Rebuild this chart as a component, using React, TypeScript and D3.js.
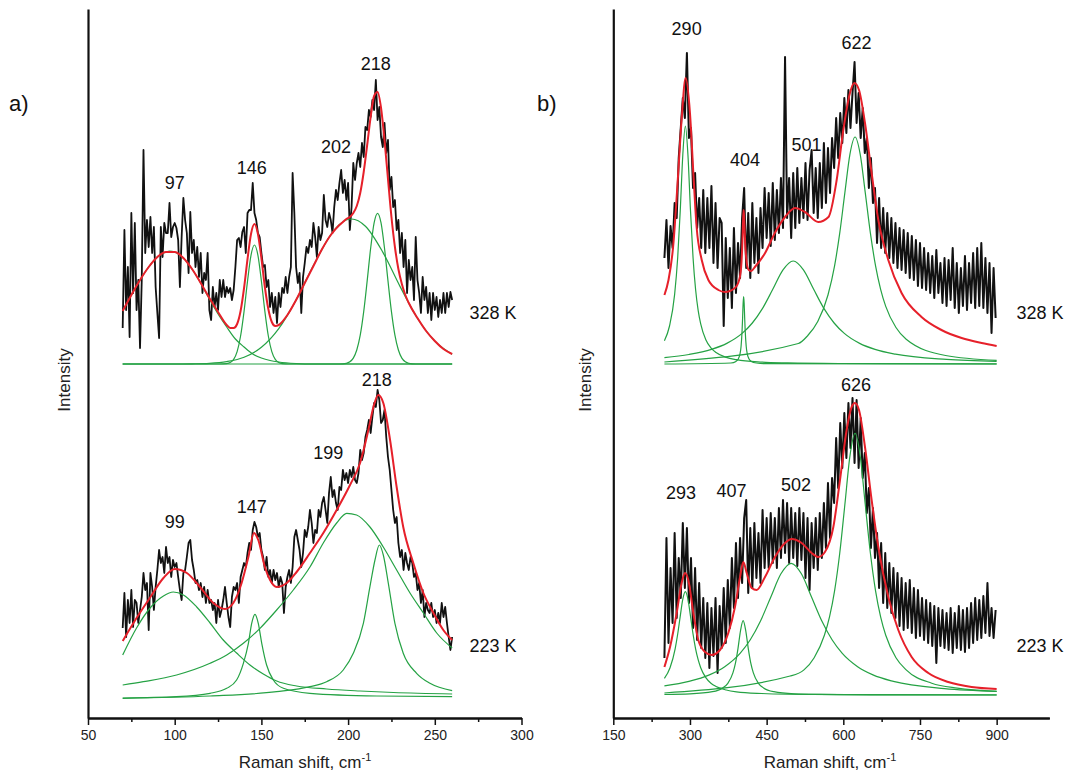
import React, { useEffect, useRef } from "react";
import * as d3 from "d3";

const FONT = "Arial, 'Liberation Sans', sans-serif";
const BLACK = "#111";
const RED = "#e6202a";
const GREEN = "#25a244";

// ---------- panel a) low-frequency range, 70-260 cm-1, 1 cm-1 step ----------
const aShiftRange = [70, 260];

const aTopCounts = [
  390, 488, 408, 451, 381, 505, 425, 495, 408, 438,
  370, 438, 568, 465, 498, 471, 501, 465, 491, 431,
  405, 380, 491, 461, 495, 485, 485, 515, 481, 491,
  495, 490, 478, 431, 481, 520, 498, 485, 445, 506,
  465, 478, 451, 471, 441, 465, 425, 445, 438, 465,
  408, 398, 431, 411, 425, 408, 438, 421, 438, 421,
  431, 425, 430, 418, 428, 451, 478, 480, 471, 486,
  491, 465, 505, 508, 508, 535, 505, 498, 485, 481,
  465, 451, 453, 431, 438, 411, 425, 405, 421, 395,
  425, 411, 430, 425, 441, 425, 441, 451, 545, 505,
  451, 435, 445, 405, 441, 455, 471, 465, 478, 471,
  495, 481, 461, 491, 478, 485, 523, 498, 491, 505,
  498, 485, 511, 528, 518, 535, 548, 525, 538, 518,
  535, 488, 511, 555, 538, 555, 565, 551, 575, 561,
  591, 588, 608, 601, 618, 608, 638, 598, 611, 581,
  571, 595, 565, 578, 528, 541, 511, 518, 488, 498,
  465, 485, 451, 478, 425, 458, 438, 451, 418, 481,
  438, 425, 405, 441, 418, 431, 405, 425, 398, 425,
  408, 421, 401, 418, 405, 425, 405, 425, 411, 426,
  418,
];

const aBotCounts = [
  90, 125, 81, 118, 95, 128, 91, 118, 115, 95,
  108, 121, 145, 128, 135, 88, 145, 131, 108, 131,
  148, 168, 155, 161, 145, 171, 155, 161, 141, 158,
  151, 155, 141, 128, 118, 145, 148, 161, 175, 178,
  158, 148, 135, 138, 128, 135, 121, 131, 115, 128,
  115, 118, 108, 115, 95, 118, 101, 108, 118, 131,
  115, 101, 91, 121, 131, 128, 135, 115, 141, 148,
  155, 151, 165, 175, 168, 188, 196, 191, 181, 185,
  168, 161, 148, 161, 141, 148, 135, 148, 138, 145,
  131, 141, 135, 105, 131, 141, 148, 135, 151, 181,
  188, 178, 168, 151, 165, 188, 181, 191, 208, 195,
  175, 188, 185, 208, 201, 215, 221, 208, 195, 225,
  241, 221, 228, 215, 208, 231, 228, 248, 238, 245,
  235, 248, 241, 251, 238, 235, 245, 268, 258, 265,
  281, 288, 298, 285, 301, 315, 311, 328, 318, 295,
  298, 308, 281, 261, 248, 228, 208, 195, 201, 175,
  161, 168, 148, 165, 155, 148, 161, 155, 141, 145,
  128, 135, 115, 128, 101, 115, 108, 105, 115, 101,
  108, 95, 105, 95, 115, 101, 111, 95, 81, 68,
  81,
];

// fitted sum (red) and components (green), [shift, intensity]
const aTopFit = [
  [70, 407], [75, 423], [80, 438], [85, 451], [90, 461], [95, 466], [100, 466],
  [105, 460], [110, 449], [115, 435], [120, 420], [125, 406], [130, 393],
  [132, 390], [134, 390], [136, 394], [138, 407], [140, 430], [142, 459],
  [144, 484], [146, 494], [148, 484], [150, 460], [152, 431], [154, 409],
  [156, 396], [158, 392], [160, 393], [165, 403], [170, 418], [175, 435],
  [180, 452], [185, 469], [190, 483], [195, 493], [197, 496], [199, 499],
  [201, 501], [203, 505], [205, 512], [207, 525], [209, 546], [211, 573],
  [213, 601], [215, 622], [217, 626], [219, 610], [221, 578], [223, 539],
  [225, 501], [227, 471], [229, 449], [231, 434], [233, 423], [235, 415],
  [240, 400], [245, 387], [250, 377], [255, 369], [260, 364],
];
const aTop97 = [
  [70, 407], [75, 423], [80, 438], [85, 451], [90, 461], [95, 466], [97, 467],
  [100, 466], [105, 460], [110, 449], [115, 435], [120, 419], [125, 404],
  [130, 391], [135, 379], [140, 371], [145, 364], [150, 360], [155, 357.5],
  [160, 356], [170, 354.5], [180, 354], [260, 354],
];
const aTop146 = [
  [70, 354], [126, 354], [130, 354.4], [132, 355.4], [134, 358.6], [136, 366.4],
  [138, 382], [140, 406.7], [142, 436.9], [144, 462.7], [146, 473], [148, 462.7],
  [150, 436.9], [152, 406.7], [154, 382], [156, 366.4], [158, 358.6],
  [160, 355.4], [162, 354.4], [166, 354], [260, 354],
];
const aTop202 = [
  [70, 354], [100, 354], [110, 354.2], [120, 354.7], [130, 356.4], [140, 360.7],
  [150, 370.7], [160, 389.4], [170, 417.9], [180, 452.5], [190, 483.2],
  [195, 493.5], [202, 499], [210, 491.8], [220, 465.9], [230, 431.4],
  [240, 399.7], [250, 376.9], [260, 363.8],
];
const aTop218 = [
  [70, 354], [195, 354], [199, 354.7], [201, 356.2], [203, 359.9], [205, 368],
  [207, 382.8], [209, 406.3], [211, 437.1], [213, 469.7], [215, 495.1],
  [217, 504.7], [219, 495.1], [221, 469.7], [223, 437.1], [225, 406.3],
  [227, 382.8], [229, 368], [231, 359.9], [233, 356.2], [235, 354.7],
  [239, 354], [260, 354],
];

const aBotFit = [
  [70, 77], [78, 100], [86, 121], [93.5, 140], [100, 149], [107, 145],
  [114.6, 131], [122.3, 115], [129, 109], [133.8, 115], [138.6, 135],
  [142.5, 161], [145.7, 185], [148.2, 178], [152, 151], [155, 138],
  [158.8, 131], [164.6, 135], [170.3, 146], [178, 165], [185.7, 185],
  [193.4, 208], [201.1, 233], [206.9, 255], [211.7, 288], [214.6, 311],
  [217.4, 323], [220.3, 315], [224.2, 278], [228, 231], [231.8, 191],
  [237.6, 155], [243.4, 125], [249.2, 105], [254.9, 88], [260, 78],
];
const aBot99 = [
  [70, 63], [78, 90], [85.8, 110], [93.5, 122], [99.2, 126], [105, 123],
  [112.7, 111], [120.4, 95], [128, 78], [135.7, 65], [143.4, 53], [151.1, 44],
  [158.8, 37], [170.3, 32], [187.6, 29], [206.9, 27], [226.1, 25.5], [260, 24],
];
const aBot147 = [
  [70, 20], [101, 21.3], [120.4, 24.7], [130, 29.7], [135.7, 38], [139.6, 54.7],
  [142.5, 74.7], [144.4, 94.7], [146.3, 103.7], [148.2, 94.7], [150.2, 74.7],
  [153, 53], [156.9, 38], [162.7, 29.7], [178, 24.7], [216.5, 22], [260, 21.3],
];
const aBot199 = [
  [70, 33], [81.9, 36.3], [101.1, 43], [120.4, 54.7], [130, 63], [139.6, 74.7],
  [149.2, 89.7], [158.8, 108], [168.4, 128], [178, 151], [185.7, 175],
  [193.4, 195], [199.2, 204.7], [204.9, 203], [212.6, 191], [220.3, 171],
  [228, 148], [235.7, 125], [243.4, 105], [251.1, 85], [260, 70],
];
const aBot218 = [
  [70, 19.7], [120.4, 22], [158.8, 26.3], [178, 31.3], [187.6, 36.3],
  [197.2, 48], [203, 64.7], [208.8, 94.7], [212.6, 131.3], [215.5, 158],
  [218, 173], [220.3, 163], [223.2, 134.7], [227, 94.7], [231.8, 64.7],
  [239.5, 44.7], [247.2, 34.7], [260, 27.3],
];

// ---------- panel b) 250-900 cm-1, 4 cm-1 step ----------
const bShiftRange = [250, 898];

const bTopCounts = [
  460, 498, 450, 492, 470, 515, 500, 560, 590, 620,
  600, 665, 580, 590, 530, 545, 490, 520, 470, 528,
  465, 520, 470, 532, 455, 515, 450, 500, 495, 392,
  480, 420, 470, 410, 490, 425, 475, 440, 500, 530,
  450, 505, 440, 515, 455, 500, 445, 510, 470, 530,
  480, 525, 472, 535, 478, 528, 485, 540, 490, 661,
  500, 540, 480, 545, 490, 550, 495, 540, 500, 555,
  498, 548, 568, 505, 550, 500, 555, 510, 575, 515,
  570, 525, 580, 550, 600, 560, 605, 575, 620, 585,
  628, 590, 625, 656, 595, 625, 580, 610, 565, 580,
  530, 560, 515, 530, 475, 520, 470, 510, 465, 505,
  460, 500, 455, 495, 450, 490, 448, 488, 445, 485,
  440, 482, 438, 478, 432, 475, 430, 470, 428, 465,
  425, 462, 420, 468, 425, 455, 415, 460, 412, 458,
  418, 470, 410, 455, 405, 450, 412, 462, 408, 455,
  415, 465, 410, 470, 412, 475, 410, 460, 405, 455,
  385, 450, 400,
];

const bBotCounts = [
  60, 180, 75, 150, 95, 185, 100, 160, 120, 195,
  130, 190, 115, 160, 90, 150, 78, 135, 70, 120,
  60, 115, 50, 110, 62, 120, 45, 112, 70, 130,
  75, 138, 90, 160, 110, 175, 120, 180, 135, 200,
  218, 125, 190, 130, 195, 140, 185, 135, 208, 150,
  200, 150, 205, 155, 200, 150, 210, 160, 218, 165,
  215, 155, 210, 160, 205, 152, 210, 158, 205, 140,
  200, 128, 195, 150, 200, 148, 205, 160, 215, 170,
  235, 180, 240, 215, 280, 230, 295, 250, 305, 260,
  315, 270, 320, 255, 318, 250, 300, 240, 265, 205,
  230, 170, 210, 160, 185, 130, 175, 115, 165, 110,
  155, 105, 150, 100, 145, 92, 140, 88, 135, 90,
  138, 85, 130, 80, 128, 82, 120, 78, 118, 75,
  115, 72, 112, 55, 110, 72, 108, 70, 105, 68,
  110, 65, 105, 70, 112, 68, 108, 66, 110, 70,
  115, 75, 120, 78, 118, 80, 122, 85, 135, 82,
  110, 80, 108,
];

const bTopFit = [
  [250, 423], [258, 438], [267, 471], [277, 545], [284, 601], [291.5, 640],
  [300, 605], [306.6, 545], [313, 491], [323, 458], [336, 438], [355.5, 428],
  [368.5, 426], [388, 430], [395, 436], [398, 442], [400, 450], [402, 468],
  [403, 482], [404, 498], [405, 508], [406, 500], [407, 487], [408, 475],
  [410, 460], [412, 452], [415, 448], [420, 447], [427, 451], [447, 465],
  [466, 485], [486, 501], [505.5, 510], [525, 506], [551, 496], [571, 501],
  [587, 538], [600, 588], [613, 625], [621.5, 635], [630.7, 628], [642.4, 595],
  [655.4, 545], [668.5, 498], [688, 458], [714, 425], [753, 401], [792, 388],
  [831.5, 380], [870.6, 375], [900, 372],
];
const bTop290 = [
  [250, 377.3], [260, 392], [270, 423.6], [276, 460.5], [281, 507.6],
  [286, 563.3], [291, 592], [296, 563.3], [301, 507.6], [306, 460.5],
  [311, 428.5], [316, 407.7], [321, 394.1], [331, 378.3], [341, 370.2],
  [351, 365.5], [371, 360.6], [391, 358.3], [441, 355.9], [491, 355.1],
  [591, 354.5], [900, 354.1],
];
const bTop404 = [
  [250, 354], [380, 355], [390, 356.6], [395, 359.6], [398, 364.4], [400, 371.8],
  [402, 387.7], [403, 400.6], [404, 414.6], [405, 421.3], [406, 414.6],
  [407, 400.6], [408, 387.7], [410, 371.8], [412, 364.4], [415, 359.6],
  [420, 356.6], [430, 355], [450, 354.3], [900, 354],
];
const bTop501 = [
  [250, 360.4], [298, 363.5], [342, 368.6], [372, 374.6], [402, 384.6],
  [422, 395], [442, 409.6], [462, 428.7], [482, 448.1], [502, 457],
  [522, 448.1], [542, 428.7], [562, 409.6], [582, 395], [602, 384.6],
  [632, 374.6], [662, 368.6], [702, 363.8], [802, 358.6], [900, 356.7],
];
const bTop622 = [
  [250, 356], [512, 374.5], [530, 382.2], [550, 396.4], [570, 423],
  [583, 452.4], [593, 484.8], [603, 525.1], [613, 563.9], [623, 581],
  [633, 563.9], [643, 525.1], [653, 484.8], [663, 452.4], [673, 428.7],
  [683, 411.6], [703, 390.5], [723, 378.8], [800, 362.5], [900, 357.6],
];

const bBotFit = [
  [250, 51], [261, 71], [274, 105], [283.7, 135], [290.3, 145], [296.8, 138],
  [306.6, 105], [316.3, 78], [329.4, 66], [342.4, 63], [358.7, 68], [375, 85],
  [388, 111], [398, 141], [404.4, 156], [411, 145], [420.7, 130], [430.5, 128],
  [446.8, 141], [466.3, 161], [486, 175], [499, 179], [518.5, 175], [538, 165],
  [551, 161], [564, 166], [580.5, 191], [593.5, 238], [606.5, 288],
  [616.3, 311], [622.8, 315], [630.7, 308], [642.4, 271], [655.4, 218],
  [668.5, 171], [688, 121], [707.6, 88], [733.7, 61], [766.3, 45],
  [805.4, 36], [851, 31], [900, 29],
];
const bBot293 = [
  [250, 39.7], [261, 50.3], [271, 69.2], [276, 84], [281, 101.9], [286, 118.9],
  [291, 126.3], [296, 118.9], [301, 101.9], [306, 84], [311, 69.2],
  [316, 58.3], [321, 50.3], [331, 40.4], [341, 34.8], [351, 31.5], [371, 28],
  [391, 26.2], [441, 24.5], [491, 23.8], [591, 23.4], [900, 23.1],
];
const bBot407 = [
  [250, 23.5], [300, 24.1], [344, 26.3], [364, 30.1], [374, 34.7], [384, 45.1],
  [389, 54.9], [394, 69.7], [399, 87.7], [404, 97.3], [409, 87.7], [414, 69.7],
  [419, 54.9], [424, 45.1], [434, 34.7], [444, 30.1], [464, 26.3], [504, 24.2],
  [554, 23.6], [654, 23.2], [900, 23],
];
const bBot502 = [
  [250, 32.2], [298, 36.6], [338, 43.1], [368, 51.3], [398, 64.6], [418, 78.2],
  [438, 97], [458, 120.8], [478, 144.2], [498, 154.7], [518, 144.2],
  [538, 120.8], [558, 97], [578, 78.2], [598, 64.6], [628, 51.3], [658, 43.1],
  [698, 36.6], [798, 29.4], [900, 26.7],
];
const bBot626 = [
  [250, 25], [496, 42], [523, 48.1], [543, 60.3], [563, 82.7], [573, 101.1],
  [583, 127.4], [593, 164.7], [603, 213.2], [613, 262.2], [623, 284.7],
  [633, 262.2], [643, 213.2], [653, 164.7], [663, 127.4], [673, 101.1],
  [683, 82.7], [703, 60.3], [723, 48.1], [773, 34.8], [823, 29.8], [900, 26.6],
];

// peak labels: text, shift, intensity level of label centre
const aPeakText = ["97", "146", "202", "218", "99", "147", "199", "218"];
const aPeakShift = [100, 144.5, 193, 216, 100, 144.5, 188.5, 216.5];
const aPeakLevel = [535, 550, 571, 654, 196, 211, 265, 338];
const bPeakText = ["290", "404", "501", "622", "293", "407", "502", "626"];
const bPeakShift = [293.5, 407.5, 528, 626, 282.5, 381.5, 507.5, 625];
const bPeakLevel = [689, 558, 573, 675, 225, 227, 233, 333];
const tempText = ["328 K", "223 K"];
const tempLevel = [405, 72];

const aMajor = [50, 100, 150, 200, 250, 300];
const aMinor = [75, 125, 175, 225, 275];
const bMajor = [150, 300, 450, 600, 750, 900];
const bMinor = [225, 375, 525, 675, 825];

const y = d3.scaleLinear().domain([0, 709]).range([718, 9]);

const XAxis = ({ scale, major, minor }) => {
  const ref = useRef(null);
  useEffect(() => {
    const g = d3.select(ref.current);
    g.selectAll("*").remove();
    g.append("g").call(
      d3.axisBottom(scale).tickValues(minor).tickSize(4).tickSizeOuter(0).tickFormat(() => "")
    );
    g.append("g").call(
      d3.axisBottom(scale).tickValues(major).tickSize(7).tickSizeOuter(0).tickPadding(5)
    );
    g.selectAll(".domain").attr("stroke", BLACK).attr("stroke-width", 2);
    g.selectAll(".tick line").attr("stroke", BLACK).attr("stroke-width", 1.5);
    g.selectAll(".tick text")
      .attr("font-family", FONT)
      .attr("font-size", 14)
      .attr("fill", "#222");
  });
  return <g ref={ref} transform={`translate(0, ${y(0)})`} />;
};

const YAxis = ({ left }) => {
  const ref = useRef(null);
  useEffect(() => {
    const g = d3.select(ref.current);
    g.selectAll("*").remove();
    g.call(d3.axisLeft(y).tickValues([]).tickSizeOuter(0));
    g.selectAll(".domain").attr("stroke", BLACK).attr("stroke-width", 2.2);
  });
  return <g ref={ref} transform={`translate(${left}, 0)`} />;
};

const spectrum = (counts, range) =>
  counts.map((v, i) => [range[0] + (i * (range[1] - range[0])) / (counts.length - 1), v]);

const Panel = ({ x, tag, tagX, titleX, yLabelX, spectra, fits, comps, peaks, tempShift, blackWidth }) => {
  const raw = d3.line().x((d) => x(d[0])).y((d) => y(d[1]));
  const smooth = d3.line().x((d) => x(d[0])).y((d) => y(d[1])).curve(d3.curveMonotoneX);
  return (
    <g>
      {spectra.map((s, i) => (
        <path key={"s" + i} d={raw(s)} fill="none" stroke={BLACK} strokeWidth={blackWidth} strokeLinejoin="round" />
      ))}
      {comps.map((c, i) => (
        <path key={"c" + i} d={smooth(c)} fill="none" stroke={GREEN} strokeWidth={1.2} />
      ))}
      {fits.map((f, i) => (
        <path key={"f" + i} d={smooth(f)} fill="none" stroke={RED} strokeWidth={2} />
      ))}
      {peaks.text.map((t, i) => (
        <text key={"p" + i} x={x(peaks.shift[i])} y={y(peaks.level[i])} textAnchor="middle"
          dominantBaseline="central" fontFamily={FONT} fontSize={18} fill="#111">
          {t}
        </text>
      ))}
      {tempText.map((t, i) => (
        <text key={"t" + i} x={x(tempShift)} y={y(tempLevel[i])} dominantBaseline="central"
          fontFamily={FONT} fontSize={18} fill="#111">
          {t}
        </text>
      ))}
      <XAxis scale={x} major={peaks.major} minor={peaks.minor} />
      <YAxis left={x.range()[0]} />
      <text x={tagX} y={111} fontFamily={FONT} fontSize={22} fill="#111">{tag}</text>
      <text x={titleX} y={768} textAnchor="middle" fontFamily={FONT} fontSize={17} fill="#222">
        Raman shift, cm<tspan fontSize={11} dy={-7}>-1</tspan>
      </text>
      <text transform={`translate(${yLabelX}, 380) rotate(-90)`} textAnchor="middle"
        dominantBaseline="central" fontFamily={FONT} fontSize={17} fill="#222">
        Intensity
      </text>
    </g>
  );
};

const App = () => {
  const xa = d3.scaleLinear().domain([50, 300]).range([88, 521.5]);
  const xb = d3.scaleLinear().domain([150, 1003]).range([613.3, 1049.3]);
  return (
    <svg width={1072} height={774} style={{ position: "absolute", left: 0, top: 0, background: "#fff" }}>
      <rect width={1072} height={774} fill="#fff" />
      <Panel
        x={xa}
        tag="a)"
        tagX={9}
        titleX={305}
        yLabelX={64}
        blackWidth={1.8}
        tempShift={270}
        spectra={[spectrum(aTopCounts, aShiftRange), spectrum(aBotCounts, aShiftRange)]}
        comps={[aTop97, aTop146, aTop202, aTop218, aBot99, aBot147, aBot199, aBot218]}
        fits={[aTopFit, aBotFit]}
        peaks={{ text: aPeakText, shift: aPeakShift, level: aPeakLevel, major: aMajor, minor: aMinor }}
      />
      <Panel
        x={xb}
        tag="b)"
        tagX={537}
        titleX={830}
        yLabelX={585}
        blackWidth={2}
        tempShift={939}
        spectra={[spectrum(bTopCounts, bShiftRange), spectrum(bBotCounts, bShiftRange)]}
        comps={[bTop290, bTop404, bTop501, bTop622, bBot293, bBot407, bBot502, bBot626]}
        fits={[bTopFit, bBotFit]}
        peaks={{ text: bPeakText, shift: bPeakShift, level: bPeakLevel, major: bMajor, minor: bMinor }}
      />
    </svg>
  );
};

export default App;
